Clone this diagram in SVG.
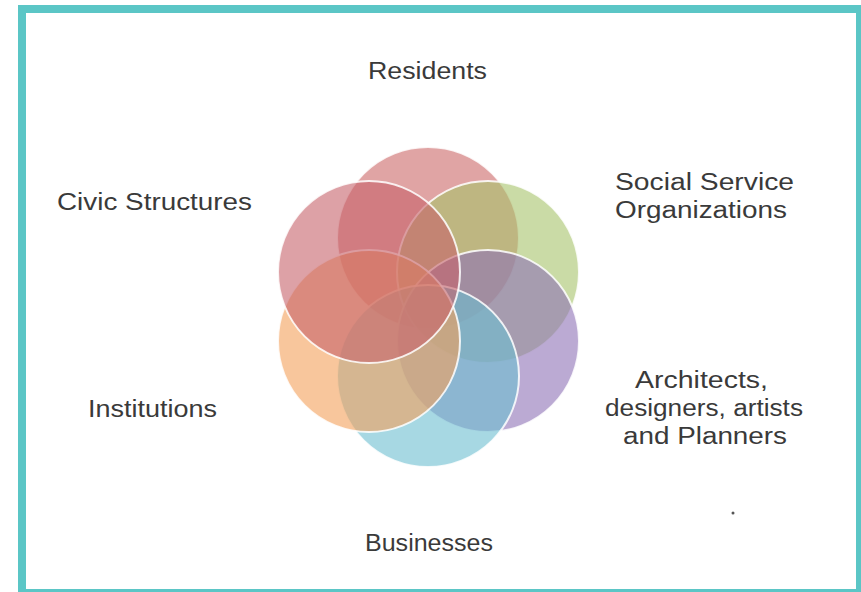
<svg xmlns="http://www.w3.org/2000/svg" width="861" height="592" viewBox="0 0 861 592">
<style>
.lbl{font-family:"Liberation Sans","DejaVu Sans",sans-serif;font-size:23px;fill:#3a3a3a;}
.c{stroke:#ffffff;stroke-width:2;stroke-opacity:0.85;fill-opacity:0.6;}
</style>
<rect x="18" y="5" width="843" height="587" fill="#5BC6C6"/>
<rect x="26" y="13" width="830" height="576" fill="#ffffff"/>
<g id="circles">
<g id="residents-circle"><circle class="c" cx="428" cy="238" r="91" fill="#CB6767"/></g>
<g id="social-circle"><circle class="c" cx="488" cy="272" r="91" fill="#A7C36B"/></g>
<g id="architects-circle"><circle class="c" cx="488" cy="341" r="91" fill="#8E71B6"/></g>
<g id="businesses-circle"><circle class="c" cx="428" cy="376" r="91" fill="#6CBED0"/></g>
<g id="institutions-circle"><circle class="c" cx="369" cy="341" r="91" fill="#F3A05A"/></g>
<g id="civic-circle"><circle class="c" cx="369" cy="272" r="91" fill="#C6626B"/></g>
</g>
<g id="residents"><text class="lbl" x="368" y="79" textLength="119" lengthAdjust="spacingAndGlyphs">Residents</text></g>
<g id="civic"><text class="lbl" x="57" y="210" textLength="195" lengthAdjust="spacingAndGlyphs">Civic Structures</text></g>
<g id="social"><text class="lbl" x="615" y="190" textLength="179" lengthAdjust="spacingAndGlyphs">Social Service</text><text class="lbl" x="615" y="218" textLength="172" lengthAdjust="spacingAndGlyphs">Organizations</text></g>
<g id="institutions"><text class="lbl" x="88" y="417" textLength="129" lengthAdjust="spacingAndGlyphs">Institutions</text></g>
<g id="architects"><text class="lbl" x="635" y="388" textLength="133" lengthAdjust="spacingAndGlyphs">Architects,</text><text class="lbl" x="605" y="416" textLength="198" lengthAdjust="spacingAndGlyphs">designers, artists</text><text class="lbl" x="623" y="444" textLength="164" lengthAdjust="spacingAndGlyphs">and Planners</text></g>
<g id="businesses"><text class="lbl" x="365" y="551" textLength="128" lengthAdjust="spacingAndGlyphs">Businesses</text></g>
<circle cx="733" cy="513" r="1.5" fill="#555555"/>
<g id="connectors"></g>
</svg>
